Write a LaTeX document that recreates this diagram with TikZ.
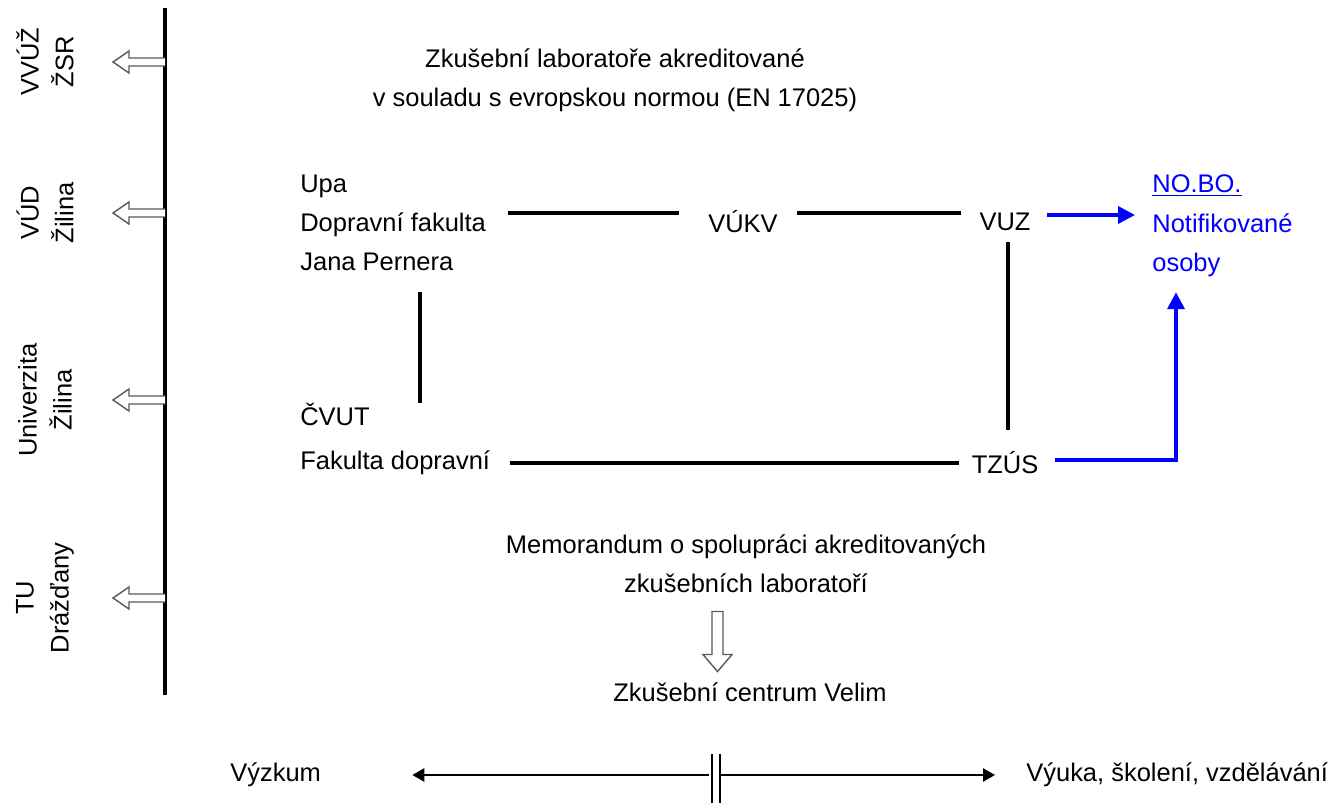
\documentclass[tikz,border=0pt]{standalone}
\usepackage{fontspec}
\setmainfont{Liberation Sans}
\usetikzlibrary{positioning,arrows.meta}
\newcommand{\nbblue}{blue}
\newcommand{\hollowgrey}{black!65}
\tikzset{
    line/.style = { line width=2.1pt, },
    thinline/.style = { line width=1.2pt, },
    link/.style = { line width=2.1pt,draw=\nbblue,-{Triangle[length=9.6pt,width=9.6pt]}, },
    axisarrow/.style = { thinline,-{Triangle[length=6.8pt,width=7.4pt]}, },
    hollow/.style = { draw=\hollowgrey,line width=0.8pt,fill=white, },
    write/.style = { text=black,font=\fontsize{14.5}{22.4}\selectfont,inner sep=0, },
    side/.style = { write,font=\fontsize{14.5}{19.8}\selectfont,rotate=90,align=center, },
}
\newcommand{\sidearrow}[3]{
    \node [side] (#2) at (45,#1) {#3};
    \draw [hollow] (165,#1-4) -- (129,#1-4) -- (129,#1-11) -- (113,#1) -- (129,#1+11) -- (129,#1+4) -- (165,#1+4);
}

\begin{document}
\begin{tikzpicture}[x=0.02cm,y=-0.02cm]

    \useasboundingbox (0,0) rectangle (1332,803);

    % axis of the institutes
    \coordinate (top) at (165,8);
    \coordinate (bot) at (165,695);
    \draw [line] (top) -- (bot);

    \sidearrow{62}{vvuz}{VVÚŽ\\ŽSR}
    \sidearrow{213}{vud}{VÚD\\Žilina}
    \sidearrow{400}{uniza}{Univerzita\\Žilina}
    \sidearrow{598}{tud}{TU\\Drážďany}

    \node [write,align=center] (title) at (615,80) {Zkušební laboratoře akreditované\\v souladu s evropskou normou (EN 17025)};

    \node [write,align=left,anchor=west] (upa) at (300,223) {Upa\\Dopravní fakulta\\Jana Pernera};
    \node [write] (vukv) at (743,222) {VÚKV};
    \node [write] (vuz) at (1005,222) {VUZ};
    \node [write,align=left,anchor=west] (cvut) at (300,439) {ČVUT\\[3pt]Fakulta dopravní};
    \node [write] (tzus) at (1005,463) {TZÚS};
    \node [write,text=\nbblue,align=left,anchor=west] (nobo) at (1152,226) {\underline{NO.BO.}\\Notifikované\\osoby};

    \draw [line] ([shift={(22,-10)}]upa.east) -- ([shift={(-29,-9)}]vukv.west);
    \draw [line] ([shift={(19,-9)}]vukv.east) -- ([shift={(-18,-9)}]vuz.west);
    \draw [line] ([shift={(120,20)}]upa.south west) -- ([shift={(120,0)}]cvut.north west);
    \draw [line] ([shift={(3,11)}]vuz.south) -- ([shift={(3,-21)}]tzus.north);
    \draw [line] ([shift={(20,24)}]cvut.east) -- ([shift={(-12,0)}]tzus.west);

    \draw [link] ([shift={(16,-7)}]vuz.east) -- ([shift={(-17,-7)}]vuz.east -| nobo.west);
    \draw [link] ([shift={(16,-3)}]tzus.east) -| ([shift={(24,15)}]nobo.south west);

    \node [write,align=center] (memo) at (746,564) {Memorandum o spolupráci akreditovaných\\zkušebních laboratoří};
    \node [write] (velim) at (750,692) {Zkušební centrum Velim};

    \coordinate (d) at ([shift={(-34,18)}]memo.south);
    \draw [hollow] (d) -- ++(11,0) -- ++(0,43) -- ++(9,0) -- ++(-14.5,17) -- ++(-14.5,-17) -- ++(9,0) -- cycle;

    % research versus teaching
    \node [write,anchor=west] (vyzkum) at (230,775) {Výzkum};
    \node [write,anchor=west] (vyuka) at (1026,775) {Výuka, školení, vzdělávání};
    \coordinate (mid) at (716,775);
    \draw [axisarrow] ([xshift=-4]mid) -- ([shift={(91,0)}]vyzkum.east);
    \draw [axisarrow] ([shift={(4,0)}]mid) -- ([shift={(-31,0)}]vyuka.west);
    \draw [thinline] ([shift={(-4,-21)}]mid) -- ([shift={(-4,28)}]mid);
    \draw [thinline] ([shift={(4,-21)}]mid) -- ([shift={(4,28)}]mid);

\end{tikzpicture}
\end{document}
